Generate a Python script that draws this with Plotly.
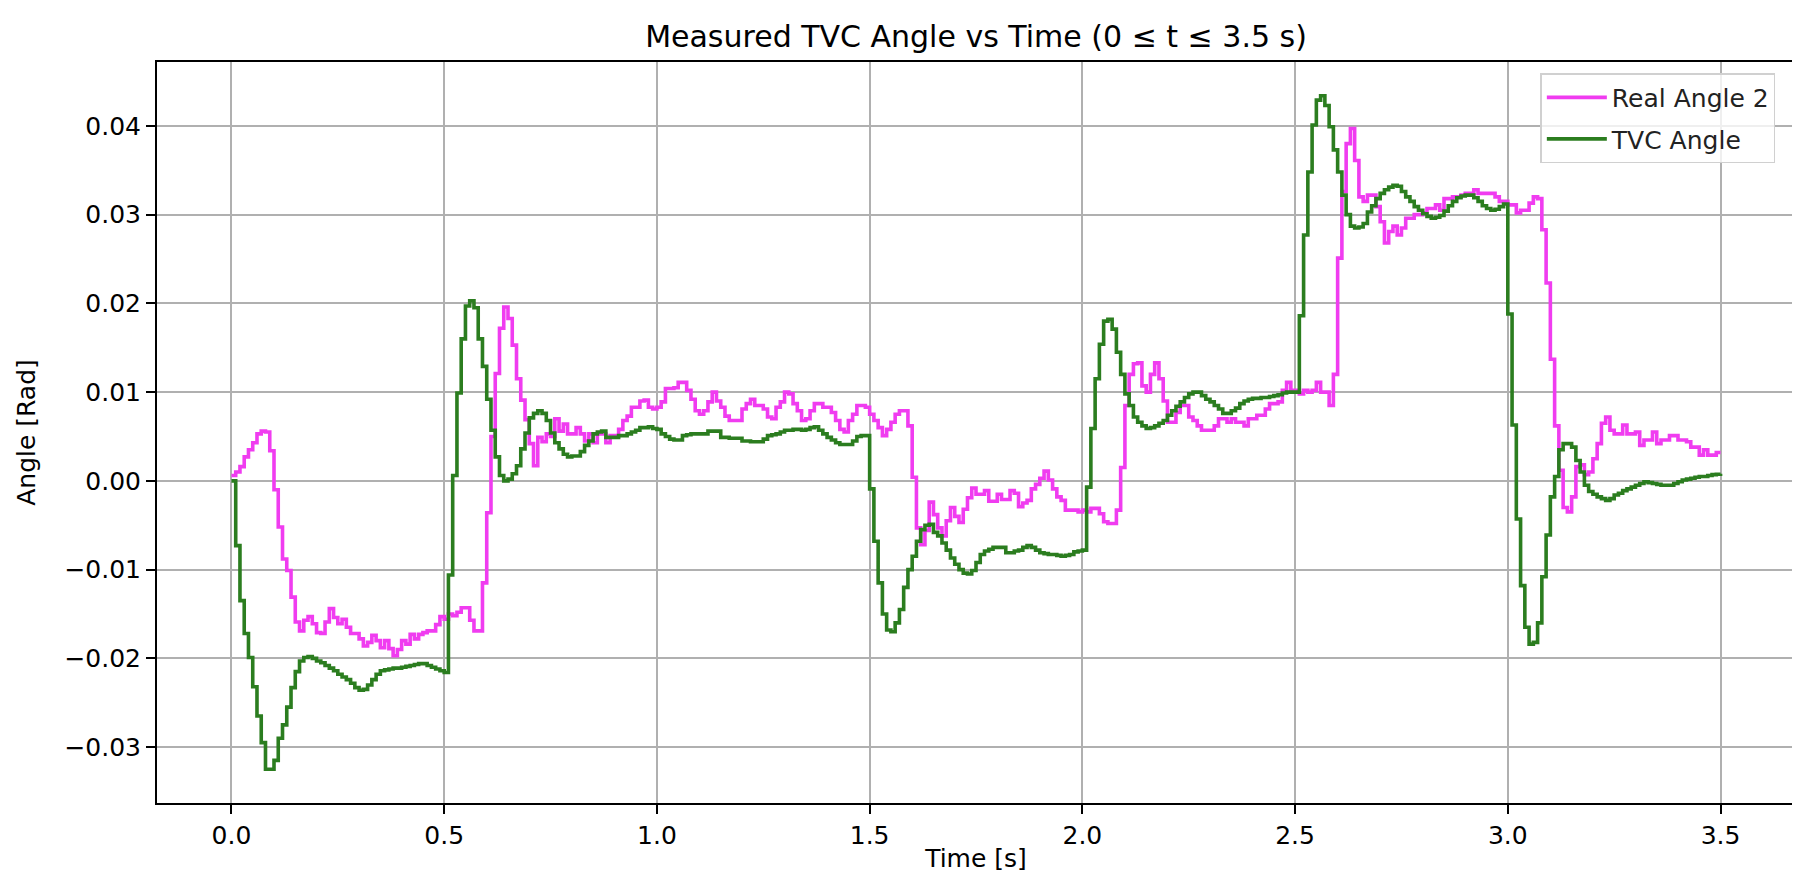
import numpy as np
import plotly.graph_objects as go

# sample spacing of the logged data [s]
dt = 0.01

# Real Angle 2, in milliradians, one value per 10 ms sample
real_angle_2_mrad = [
    0.6, 1.0, 1.6, 2.7, 3.5, 4.3, 5.3, 5.6, 5.5, 3.4,
    -1.0, -5.2, -8.8, -10.1, -13.1, -15.9, -16.9, -15.7, -15.3, -16.1,
    -17.1, -17.2, -15.9, -14.4, -15.4, -16.1, -15.6, -16.5, -17.2, -17.2,
    -17.8, -18.6, -18.2, -17.4, -18.0, -18.8, -18.0, -18.9, -19.7, -19.0,
    -18.0, -18.4, -17.3, -17.8, -17.3, -17.1, -16.9, -16.9, -16.2, -15.3,
    -15.6, -15.0, -15.2, -14.8, -14.3, -14.3, -15.7, -16.9, -16.9, -11.5,
    -3.6, 5.0, 12.1, 17.2, 19.6, 18.3, 15.3, 11.5, 9.1, 6.9,
    4.2, 1.7, 4.9, 4.4, 5.3, 5.0, 7.0, 5.6, 6.4, 5.3,
    5.3, 6.0, 5.3, 4.5, 5.3, 4.3, 5.3, 5.3, 4.3, 5.1,
    5.1, 5.8, 6.8, 7.3, 8.3, 8.3, 9.0, 9.1, 8.3, 8.1,
    8.3, 8.9, 10.4, 10.4, 10.5, 11.1, 11.1, 10.2, 9.2, 7.9,
    7.5, 7.9, 8.9, 10.0, 9.0, 8.3, 7.3, 6.8, 6.8, 6.8,
    8.1, 8.7, 9.2, 8.5, 8.5, 8.1, 7.2, 7.0, 8.3, 8.9,
    10.0, 9.8, 8.7, 7.9, 6.8, 7.0, 7.9, 8.7, 8.7, 8.3,
    8.3, 7.7, 6.8, 5.8, 5.5, 6.8, 7.5, 8.5, 8.5, 8.3,
    7.5, 6.8, 6.0, 5.1, 5.8, 6.6, 7.5, 7.9, 7.9, 6.2,
    0.4, -5.3, -7.2, -5.6, -2.4, -3.8, -5.3, -6.2, -4.5, -3.0,
    -4.0, -4.7, -3.2, -1.9, -0.8, -1.5, -1.5, -1.1, -2.3, -2.3,
    -1.5, -2.1, -2.1, -1.1, -1.4, -2.9, -2.5, -2.2, -0.9, -0.4,
    0.3, 1.1, 0.1, -0.9, -1.8, -2.2, -3.3, -3.3, -3.3, -3.5,
    -3.3, -3.5, -3.1, -3.1, -3.7, -4.6, -4.8, -4.8, -3.3, 1.5,
    8.5, 12.0, 13.2, 13.3, 10.7, 10.0, 12.0, 13.3, 11.5, 9.0,
    6.6, 6.6, 7.7, 8.5, 8.5, 7.2, 6.8, 6.2, 5.7, 5.7,
    5.7, 6.2, 7.0, 7.0, 6.6, 7.0, 6.6, 6.6, 6.2, 7.0,
    7.0, 7.4, 7.4, 8.1, 8.7, 8.7, 8.9, 10.2, 11.1, 10.2,
    10.2, 9.8, 10.2, 10.0, 10.2, 11.1, 10.0, 10.0, 8.5, 12.0,
    25.1, 32.6, 38.0, 39.7, 36.1, 32.0, 31.5, 32.2, 32.2, 30.9,
    29.2, 26.8, 28.1, 28.7, 27.7, 28.5, 29.6, 29.6, 30.0, 30.0,
    30.2, 30.7, 30.7, 31.1, 30.5, 31.8, 31.8, 32.0, 32.0, 32.2,
    32.4, 32.4, 32.8, 32.4, 32.4, 32.4, 32.4, 32.0, 31.5, 31.5,
    31.1, 31.1, 30.2, 30.5, 30.5, 31.3, 32.0, 31.8, 28.3, 22.3,
    13.7, 6.2, 1.2, -3.0, -3.5, -1.8, 1.6, 1.8, 0.7, 1.0,
    2.5, 4.2, 6.5, 7.2, 5.7, 5.3, 5.3, 6.3, 5.3, 5.3,
    5.5, 4.0, 4.6, 4.6, 5.5, 4.2, 4.6, 4.6, 5.1, 5.1,
    4.6, 4.6, 4.4, 3.8, 3.8, 2.9, 3.5, 2.9, 2.9, 3.2,
    3.2,
]

# TVC Angle, in milliradians, same sampling
tvc_angle_mrad = [
    0.0, -7.3, -13.5, -17.2, -19.9, -23.2, -26.5, -29.5, -32.5, -32.5,
    -31.5, -29.0, -27.5, -25.5, -23.3, -21.5, -20.3, -19.9, -19.8, -20.0,
    -20.3, -20.5, -20.8, -21.1, -21.4, -21.8, -22.1, -22.4, -22.8, -23.3,
    -23.6, -23.5, -23.0, -22.4, -21.8, -21.4, -21.3, -21.2, -21.1, -21.1,
    -21.0, -20.9, -20.8, -20.7, -20.6, -20.6, -20.8, -21.0, -21.2, -21.4,
    -21.6, -10.6, 0.6, 9.9, 16.0, 19.7, 20.3, 19.5, 16.0, 12.9,
    9.2, 5.7, 2.7, 0.6, 0.0, 0.2, 0.8, 1.7, 3.6, 5.4,
    7.1, 7.6, 7.9, 7.6, 6.8, 5.4, 4.3, 3.6, 3.0, 2.7,
    2.8, 2.8, 3.3, 4.0, 4.5, 5.3, 5.5, 5.6, 4.9, 4.9,
    4.9, 5.1, 5.1, 5.3, 5.5, 5.7, 6.0, 6.0, 6.1, 5.9,
    5.8, 5.3, 5.0, 4.7, 4.6, 4.6, 5.1, 5.2, 5.3, 5.3,
    5.3, 5.3, 5.6, 5.6, 5.6, 4.9, 4.9, 4.8, 4.8, 4.8,
    4.5, 4.5, 4.4, 4.4, 4.4, 4.7, 5.1, 5.2, 5.3, 5.5,
    5.7, 5.7, 5.8, 5.8, 5.7, 5.8, 6.0, 6.1, 5.7, 5.3,
    4.9, 4.6, 4.3, 4.1, 4.1, 4.1, 4.5, 5.0, 5.1, 5.1,
    -0.9, -6.8, -11.5, -15.0, -16.8, -17.0, -16.0, -14.5, -12.0, -10.0,
    -8.5, -6.8, -5.5, -5.0, -4.9, -5.8, -6.2, -7.0, -7.8, -8.7,
    -9.4, -10.0, -10.4, -10.5, -10.1, -9.2, -8.3, -7.9, -7.7, -7.5,
    -7.5, -7.5, -8.1, -8.1, -7.9, -7.8, -7.5, -7.3, -7.5, -7.8,
    -8.1, -8.2, -8.3, -8.3, -8.4, -8.5, -8.4, -8.3, -8.0, -7.9,
    -7.8, -0.7, 5.9, 11.5, 15.4, 18.0, 18.2, 17.1, 14.5, 12.0,
    9.8, 8.5, 7.2, 6.6, 6.2, 5.9, 6.0, 6.2, 6.5, 6.8,
    7.4, 7.9, 8.4, 8.9, 9.4, 9.8, 10.0, 10.0, 9.6, 9.2,
    8.9, 8.5, 8.1, 7.6, 7.6, 7.9, 8.2, 8.7, 9.0, 9.2,
    9.3, 9.3, 9.4, 9.4, 9.5, 9.6, 9.7, 9.9, 10.0, 10.0,
    10.0, 18.6, 27.7, 34.8, 40.1, 42.9, 43.4, 42.3, 39.9, 37.3,
    34.8, 32.2, 30.0, 28.7, 28.5, 28.6, 29.0, 30.3, 31.0, 31.8,
    32.4, 32.8, 33.1, 33.3, 33.2, 32.6, 32.0, 31.5, 30.9, 30.5,
    30.1, 29.8, 29.6, 29.7, 29.9, 30.4, 31.0, 31.5, 31.9, 32.1,
    32.2, 32.2, 31.9, 31.5, 31.0, 30.7, 30.5, 30.6, 30.9, 31.2,
    18.8, 6.3, -4.3, -11.8, -16.5, -18.4, -18.2, -16.0, -10.8, -6.1,
    -1.8, 0.5, 3.5, 4.2, 4.2, 3.8, 2.3, 1.0, -0.5, -1.2,
    -1.5, -1.8, -2.0, -2.2, -2.0, -1.6, -1.4, -1.1, -0.9, -0.7,
    -0.5, -0.3, -0.1, -0.2, -0.3, -0.4, -0.5, -0.5, -0.5, -0.3,
    -0.1, 0.1, 0.2, 0.3, 0.4, 0.5, 0.5, 0.6, 0.7, 0.75,
    0.8,
]

x_ticks = [0.0, 0.5, 1.0, 1.5, 2.0, 2.5, 3.0, 3.5]
y_ticks = [-0.03, -0.02, -0.01, 0.00, 0.01, 0.02, 0.03, 0.04]

# convert to rad and build the time axis
real_angle_2 = np.array(real_angle_2_mrad) / 1000.0
tvc_angle = np.array(tvc_angle_mrad) / 1000.0
t_real = np.arange(len(real_angle_2)) * dt
t_tvc = np.arange(len(tvc_angle)) * dt

fig = go.Figure()

# step plots like the logged samples
fig.add_trace(go.Scatter(
    x=t_real, y=real_angle_2, mode='lines', name='Real Angle 2',
    line=dict(color='#f03cf0', width=3.6, shape='hv'),
    legendgroup='a',
))
fig.add_trace(go.Scatter(
    x=t_tvc, y=tvc_angle, mode='lines', name='TVC Angle',
    line=dict(color='#2b7d1f', width=3.6, shape='hv'),
    legendgroup='b',
))

axis_style = dict(
    showgrid=True, gridcolor='#b0b0b0', gridwidth=2,
    zeroline=False, showline=True, linecolor='black', linewidth=2,
    mirror=True, ticks='outside', ticklen=9, tickwidth=2, tickcolor='black',
    tickfont=dict(size=25, color='black'),
)

fig.update_layout(
    width=1800, height=886,
    margin=dict(l=149, r=13, t=54, b=91),
    plot_bgcolor='white', paper_bgcolor='white',
    font=dict(family='DejaVu Sans', size=25, color='black'),
    title=dict(
        text='Measured TVC Angle vs Time (0 ≤ t ≤ 3.5 s)',
        x=0.5, xref='paper', xanchor='center',
        y=1 - 28 / 886, yref='container', yanchor='middle',
        font=dict(size=30, color='black'),
    ),
    legend=dict(
        x=0.988, xanchor='right', y=0.985, yanchor='top',
        bgcolor='rgba(255,255,255,0.8)', bordercolor='#d0d0d0', borderwidth=1.5,
        font=dict(size=25, color='#222222'), tracegroupgap=6, itemwidth=60,
    ),
    xaxis=dict(
        range=[-0.175, 3.675], tickvals=x_ticks, tickformat='.1f',
        title=dict(text='Time [s]', standoff=0, font=dict(size=25)),
        **axis_style,
    ),
    yaxis=dict(
        range=[-0.0363, 0.0472], tickvals=y_ticks, tickformat='.2f',
        title=dict(text='Angle [Rad]', standoff=22, font=dict(size=25)),
        **axis_style,
    ),
)

fig.write_html("out.html")
